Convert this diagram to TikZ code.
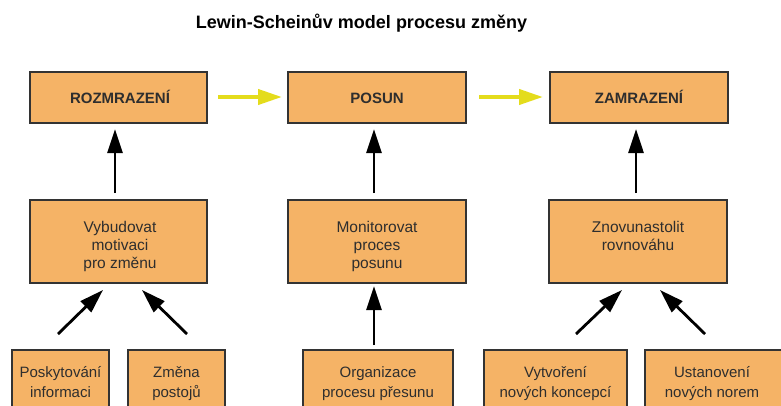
\documentclass[tikz,border=0pt]{standalone}
\usepackage{fontspec}
\setmainfont{Liberation Sans}
\usetikzlibrary{arrows.meta}
\definecolor{boxfill}{HTML}{F5B366}
\definecolor{boxline}{HTML}{333333}
\definecolor{flowyellow}{HTML}{E4DC1C}
\definecolor{textgray}{HTML}{2E2E2E}
\tikzset{
  stagebox/.style={draw=boxline, line width=1.5pt, fill=boxfill, inner sep=0pt},
  stagelabel/.style={font=\bfseries\fontsize{15}{17}\selectfont, text=textgray, anchor=base, inner sep=0pt},
  tasklabel/.style={font=\fontsize{15.5}{18}\selectfont, text=textgray, align=center, anchor=base, inner sep=0pt},
  sublabel/.style={font=\fontsize{15}{20}\selectfont, text=textgray, align=center, anchor=base, inner sep=0pt},
  flow/.style={draw=flowyellow, line width=4pt, -{Triangle[length=24pt,width=15pt]}},
  push/.style={draw=black, line width=2.8pt, -{Triangle[length=24pt,width=15pt]}},
}
\begin{document}
\begin{tikzpicture}[x=1pt,y=-1pt]
\clip (0,0) rectangle (781,405);
\useasboundingbox (0,0) rectangle (781,405);

% title
\node[font=\bfseries\fontsize{18}{21}\selectfont, anchor=base, inner sep=0pt] (title) at (361.5,28) {Lewin-Scheinův model procesu změny};

% stages
\node[stagebox, minimum width=177pt, minimum height=51pt] (top1) at (118.5,97.5) {};
\node[stagebox, minimum width=178pt, minimum height=51pt] (top2) at (377,97.5) {};
\node[stagebox, minimum width=178pt, minimum height=51pt] (top3) at (639,97.5) {};
\node[stagelabel] (t1) at (120,103) {ROZMRAZENÍ};
\node[stagelabel] (t2) at (377,103) {POSUN};
\node[stagelabel] (t3) at (639,103) {ZAMRAZENÍ};

% tasks of each stage (base anchor sits on the last line)
\node[stagebox, minimum width=177pt, minimum height=83pt] (mid1) at (118.5,241.5) {};
\node[stagebox, minimum width=178pt, minimum height=83pt] (mid2) at (377,241.5) {};
\node[stagebox, minimum width=178pt, minimum height=83pt] (mid3) at (638,241.5) {};
\node[tasklabel] (m1) at (120,268) {Vybudovat\\motivaci\\pro změnu};
\node[tasklabel] (m2) at (377,268) {Monitorovat\\proces\\posunu};
\node[tasklabel] (m3) at (638,250) {Znovunastolit\\rovnováhu};

% supporting activities
\node[stagebox, minimum width=97pt, minimum height=80pt] (b1) at (60.5,390) {};
\node[stagebox, minimum width=97pt, minimum height=80pt] (b2) at (176.5,390) {};
\node[stagebox, minimum width=150pt, minimum height=80pt] (b3) at (378,390) {};
\node[stagebox, minimum width=143pt, minimum height=80pt] (b4) at (555.5,390) {};
\node[stagebox, minimum width=145pt, minimum height=80pt] (b5) at (717.5,390) {};
\node[sublabel] (s1) at (60.5,397) {Poskytování\\informaci};
\node[sublabel] (s2) at (176.5,397) {Změna\\postojů};
\node[sublabel] (s3) at (378,397) {Organizace\\procesu přesunu};
\node[sublabel] (s4) at (555.5,397) {Vytvoření\\nových koncepcí};
\node[sublabel] (s5) at (712,397) {Ustanovení\\nových norem};

% arrow end points
\coordinate (f1s) at (218,97);  \coordinate (f1e) at (282,97);
\coordinate (f2s) at (479,97);  \coordinate (f2e) at (543,97);
\coordinate (u1s) at (115,193); \coordinate (u1e) at (115,129);
\coordinate (u2s) at (374,193); \coordinate (u2e) at (374,129);
\coordinate (u3s) at (636,193); \coordinate (u3e) at (636,129);
\coordinate (d1s) at (58,334);  \coordinate (d1e) at (103,290);
\coordinate (d2s) at (187,334); \coordinate (d2e) at (142,290);
\coordinate (d3s) at (374,345); \coordinate (d3e) at (374,286);
\coordinate (d4s) at (576,334); \coordinate (d4e) at (622,290);
\coordinate (d5s) at (705,334); \coordinate (d5e) at (660,290);

% stage flow
\draw[flow] (f1s) -- (f1e);
\draw[flow] (f2s) -- (f2e);

% upward arrows
\draw[push] (u1s) -- (u1e);
\draw[push] (u2s) -- (u2e);
\draw[push] (u3s) -- (u3e);
\draw[push] (d1s) -- (d1e);
\draw[push] (d2s) -- (d2e);
\draw[push] (d3s) -- (d3e);
\draw[push] (d4s) -- (d4e);
\draw[push] (d5s) -- (d5e);
\end{tikzpicture}
\end{document}
